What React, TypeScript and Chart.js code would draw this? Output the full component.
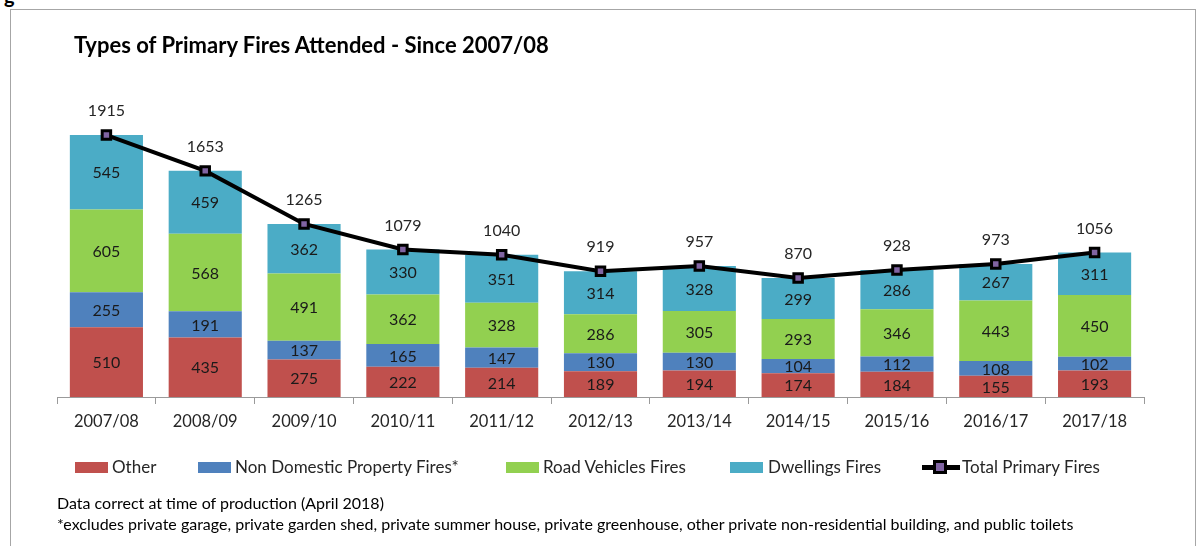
import React, { useEffect, useRef } from "react";
import { Chart, registerables } from "chart.js";

Chart.register(...registerables);

const categories = ["2007/08", "2008/09", "2009/10", "2010/11", "2011/12", "2012/13", "2013/14", "2014/15", "2015/16", "2016/17", "2017/18"];
const other = [510, 435, 275, 222, 214, 189, 194, 174, 184, 155, 193];
const nonDomestic = [255, 191, 137, 165, 147, 130, 130, 104, 112, 108, 102];
const roadVehicles = [605, 568, 491, 362, 328, 286, 305, 293, 346, 443, 450];
const dwellings = [545, 459, 362, 330, 351, 314, 328, 299, 286, 267, 311];
const totals = [1915, 1653, 1265, 1079, 1040, 919, 957, 870, 928, 973, 1056];

const FONT = "Lato, 'Open Sans', sans-serif";
const C_OTHER = "#C0504D";
const C_ND = "#4F81BD";
const C_RV = "#92D050";
const C_DW = "#4BACC6";
const C_MARK = "#8064A2";

const labelPlugin = {
  id: "valueLabels",
  afterDatasetsDraw(chart: any) {
    const ctx = chart.ctx;
    ctx.save();
    ctx.textAlign = "center";
    ctx.textBaseline = "middle";
    ctx.font = `16px ${FONT}`;
    chart.data.datasets.forEach((ds: any, i: number) => {
      const meta = chart.getDatasetMeta(i);
      if (ds.type === "line") {
        ctx.fillStyle = "#262626";
        meta.data.forEach((el: any, j: number) => {
          ctx.fillText(String(ds.data[j]), el.x, el.y - 24);
        });
      } else {
        ctx.fillStyle = "#1a1a1a";
        meta.data.forEach((el: any, j: number) => {
          const yc = (el.y + el.base) / 2 + 1;
          ctx.fillText(String(ds.data[j]), el.x, yc);
        });
      }
    });
    ctx.restore();
  },
};

const legendItems = [
  { label: "Other", color: C_OTHER, box: 75, text: 112 },
  { label: "Non Domestic Property Fires*", color: C_ND, box: 198, text: 235 },
  { label: "Road Vehicles Fires", color: C_RV, box: 506, text: 543 },
  { label: "Dwellings Fires", color: C_DW, box: 730, text: 768 },
];

export default function App() {
  const ref = useRef<HTMLCanvasElement | null>(null);
  useEffect(() => {
    if (!ref.current) return;
    const chart = new Chart(ref.current, {
      type: "bar",
      data: {
        labels: categories,
        datasets: [
          {
            type: "line",
            label: "Total Primary Fires",
            data: totals,
            stack: "total",
            order: 0,
            borderColor: "#000",
            borderWidth: 4,
            pointStyle: "rect",
            pointRadius: 6,
            pointBackgroundColor: C_MARK,
            pointBorderColor: "#000",
            pointBorderWidth: 3,
            tension: 0,
          } as any,
          { type: "bar", label: "Other", data: other, backgroundColor: C_OTHER, stack: "f", order: 1 },
          { type: "bar", label: "Non Domestic Property Fires*", data: nonDomestic, backgroundColor: C_ND, stack: "f", order: 1 },
          { type: "bar", label: "Road Vehicles Fires", data: roadVehicles, backgroundColor: C_RV, stack: "f", order: 1 },
          { type: "bar", label: "Dwellings Fires", data: dwellings, backgroundColor: C_DW, stack: "f", order: 1 },
        ],
      },
      options: {
        animation: false,
        responsive: false,
        maintainAspectRatio: false,
        layout: { padding: { left: 57, right: 58, top: 55, bottom: 109 } },
        datasets: { bar: { barPercentage: 0.74, categoryPercentage: 1 } },
        plugins: { legend: { display: false }, tooltip: { enabled: false }, title: { display: false } },
        scales: {
          x: {
            stacked: true,
            grid: { display: true, drawOnChartArea: false, drawTicks: true, tickLength: 7, color: "#9a9a9a", offset: true },
            border: { display: true, color: "#9a9a9a", width: 1 },
            ticks: { color: "#262626", font: { family: FONT, size: 16.5 }, padding: 8, maxRotation: 0 },
            afterFit: (s: any) => { s.height = 40; },
          },
          y: { stacked: true, display: false, min: 0, max: 2500 },
        },
      },
      plugins: [labelPlugin],
    });
    return () => chart.destroy();
  }, []);

  const legendText = { position: "absolute" as const, top: 456, fontSize: 17, color: "#262626", whiteSpace: "nowrap" as const, lineHeight: "22px" };

  return (
    <div style={{ position: "fixed", left: 0, top: 0, width: 1202, height: 546, background: "#fff", overflow: "hidden", fontFamily: FONT }}>
      <div style={{ position: "absolute", left: 4, top: -17, fontSize: 20, fontWeight: 700, color: "#000" }}>g</div>
      <div style={{ position: "absolute", left: 10, top: 9, width: 1186, height: 600, border: "1px solid #a6a6a6", boxSizing: "border-box" }} />
      <canvas ref={ref} width={1202} height={546} style={{ position: "absolute", left: 0, top: 0, width: 1202, height: 546 }} />
      <div style={{ position: "absolute", left: 74, top: 31, fontSize: 22, fontWeight: 700, color: "#000", whiteSpace: "nowrap", lineHeight: "28px" }}>
        Types of Primary Fires Attended - Since 2007/08
      </div>
      {legendItems.map((it) => (
        <React.Fragment key={it.label}>
          <div style={{ position: "absolute", left: it.box, top: 462, width: 33, height: 11, background: it.color }} />
          <div style={{ ...legendText, left: it.text }}>{it.label}</div>
        </React.Fragment>
      ))}
      <div style={{ position: "absolute", left: 922, top: 465, width: 38, height: 5, background: "#000" }} />
      <div style={{ position: "absolute", left: 933, top: 460, width: 8, height: 8, background: C_MARK, border: "3px solid #000" }} />
      <div style={{ ...legendText, left: 962 }}>Total Primary Fires</div>
      <div style={{ position: "absolute", left: 57, top: 493, fontSize: 16, color: "#000", whiteSpace: "nowrap", lineHeight: "20px" }}>
        Data correct at time of production (April 2018)
      </div>
      <div style={{ position: "absolute", left: 57, top: 514, fontSize: 16, color: "#000", whiteSpace: "nowrap", lineHeight: "20px" }}>
        *excludes private garage, private garden shed, private summer house, private greenhouse, other private non-residential building, and public toilets
      </div>
    </div>
  );
}
